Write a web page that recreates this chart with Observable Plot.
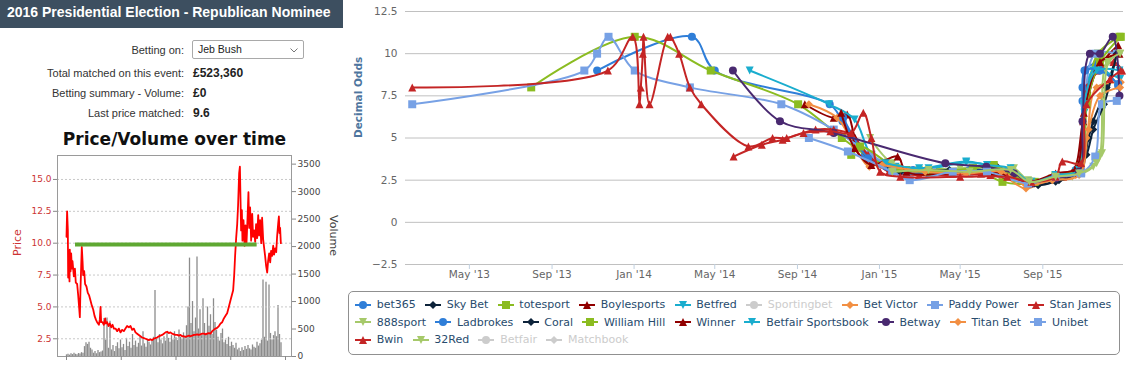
<!DOCTYPE html>
<html>
<head>
<meta charset="utf-8">
<script src="https://cdn.jsdelivr.net/npm/d3@7"></script>
<script src="https://cdn.jsdelivr.net/npm/@observablehq/plot@0.6"></script>
<style>
  body { margin: 0; background: #fff; }
  #page { position: relative; width: 1129px; height: 365px; overflow: hidden; background: #fff; font-family: "Liberation Sans", Arial, sans-serif; }
  .abs { position: absolute; }
  #titlebar { left: 0; top: 0; width: 343px; height: 28px; background: #3d4f60; color: #fff; font: bold 14px "Liberation Sans", Arial, sans-serif; line-height: 24px; padding-left: 7px; box-sizing: border-box; white-space: nowrap; }
  .lbl { left: 0; width: 184px; text-align: right; font-size: 11px; line-height: 14px; color: #333; white-space: nowrap; }
  .val { left: 193px; font-weight: bold; font-size: 12px; line-height: 14px; color: #222; white-space: nowrap; }
  #select { left: 192px; top: 40px; width: 112px; height: 19px; border: 1px solid #a9a9a9; border-radius: 2px; box-sizing: border-box; font-size: 10.5px; line-height: 17px; padding-left: 5px; color: #222; }
  #select svg { position: absolute; right: 5px; top: 7px; }
  #minititle { left: 0; top: 129px; width: 349px; text-align: center; font: bold 17px "DejaVu Sans", sans-serif; line-height: 20px; color: #111; white-space: nowrap; }
  #legendbox { left: 348px; top: 291px; width: 772px; height: 64px; border: 1px solid #909090; border-radius: 5px; box-sizing: border-box; }
  #legend { left: 355px; top: 296px; width: 780px; display: flex; flex-wrap: wrap; column-gap: 9.3px; row-gap: 0; font: 11px "DejaVu Sans", sans-serif; line-height: 17.5px; }
  #legend .item { display: flex; align-items: center; white-space: nowrap; }
  #legend .item svg { margin-right: 5.7px; display: block; }
</style>
</head>
<body>
<div id="page">
  <div id="titlebar" class="abs">2016 Presidential Election - Republican Nominee</div>
  <div class="abs lbl" style="top:43px">Betting on:</div>
  <div id="select" class="abs">Jeb Bush<svg width="8" height="5"><polyline points="0.5,0.5 4,4 7.5,0.5" fill="none" stroke="#777" stroke-width="1"/></svg></div>
  <div class="abs lbl" style="top:66px">Total matched on this event:</div>
  <div class="abs val" style="top:66px">£523,360</div>
  <div class="abs lbl" style="top:86px">Betting summary - Volume:</div>
  <div class="abs val" style="top:86px">£0</div>
  <div class="abs lbl" style="top:106px">Last price matched:</div>
  <div class="abs val" style="top:106px">9.6</div>
  <div id="minititle" class="abs">Price/Volume over time</div>
  <div id="minivol" class="abs" style="left:0;top:150px"></div>
  <div id="miniprice" class="abs" style="left:0;top:150px"></div>
  <div id="main" class="abs" style="left:345px;top:0"></div>
  <div id="legendbox" class="abs"></div>
  <div id="legend" class="abs"></div>
</div>
<script>
// ================= DATA: main chart =================
const xTickDates = ["2013-05-01","2013-09-01","2014-01-01","2014-05-01","2014-09-01","2015-01-01","2015-05-01","2015-09-01"];
const xTickLabels = ["May '13","Sep '13","Jan '14","May '14","Sep '14","Jan '15","May '15","Sep '15"];
const yTicks = [-2.5, 0, 2.5, 5, 7.5, 10, 12.5];
const xDomain = ["2013-01-26", "2015-12-30"];

const seriesNames = ["bet365","Sky Bet","totesport","Boylesports","Betfred","Sportingbet","Bet Victor","Paddy Power","Stan James","888sport","Ladbrokes","Coral","William Hill","Winner","Betfair Sportsbook","Betway","Titan Bet","Unibet","Bwin","32Red","Betfair","Matchbook"];
const seriesColors = ["#2f7ed8","#0d233a","#8bbc21","#910000","#1aadce","#492970","#f28f43","#77a1e5","#c42525","#a6c96a","#2f7ed8","#0d233a","#8bbc21","#910000","#1aadce","#492970","#f28f43","#77a1e5","#c42525","#a6c96a","#2f7ed8","#0d233a"];
const seriesSymbols = ["circle","diamond","square","triangle","triangle-down","circle","diamond","square","triangle","triangle-down","circle","diamond","square","triangle","triangle-down","circle","diamond","square","triangle","triangle-down","circle","diamond"];
const seriesHidden = [false,false,false,false,false,true,false,false,false,false,false,false,false,false,false,false,false,false,false,false,true,true];

const bet365 = [["2013-11-07",9],["2014-03-28",11],["2014-05-01",9],["2014-10-19",7],["2014-11-07",6],["2014-12-10",4],["2015-01-12",3.3],["2015-02-20",3.1],["2015-04-10",3],["2015-06-15",3.1],["2015-07-20",2.8],["2015-08-12",2.3],["2015-09-20",2.7],["2015-10-20",3.1],["2015-10-30",7.2],["2015-11-02",9],["2015-11-20",9.4],["2015-12-22",8.1]];
const skyBet = [["2015-01-15",3.1],["2015-03-15",3.0],["2015-05-20",3.2],["2015-06-25",3.3],["2015-08-01",2.6],["2015-08-25",2.2],["2015-09-25",2.5],["2015-10-25",2.9],["2015-11-08",5.0],["2015-11-15",6.0],["2015-12-05",8.0],["2015-12-20",10.0]];
const totesport = [["2013-08-01",8],["2014-01-02",11],["2014-04-25",9],["2014-09-02",7],["2014-11-06",5],["2015-01-02",3.5],["2015-02-10",3.1],["2015-04-01",3.0],["2015-05-20",3.2],["2015-07-03",2.4],["2015-08-12",2.3],["2015-09-20",2.8],["2015-10-25",3.2],["2015-11-06",7.5],["2015-11-22",10],["2015-12-24",11]];
const boylesports = [["2014-09-12",7],["2014-10-25",6.2],["2014-11-14",6.4],["2014-11-26",5],["2014-12-20",3.6],["2015-01-20",3.3],["2015-03-20",3.0],["2015-06-01",2.9],["2015-08-15",2.4],["2015-09-15",2.6],["2015-10-15",3.0],["2015-10-31",6],["2015-11-20",9],["2015-12-22",10.5]];
const betfred = [["2014-06-22",9],["2014-10-18",7],["2014-11-25",6.1],["2014-12-20",4],["2015-01-25",3.3],["2015-03-15",3.2],["2015-05-10",3.55],["2015-06-20",3.3],["2015-08-10",2.3],["2015-09-20",2.8],["2015-10-20",3],["2015-11-02",6.5],["2015-11-15",9],["2015-12-25",8.5]];
const sportingbet = [];
const betVictor = [["2014-09-18",7],["2014-10-30",6.2],["2014-11-25",4.5],["2014-12-17",3.3],["2015-01-10",3.6],["2015-02-20",3.0],["2015-05-01",3.0],["2015-07-01",2.8],["2015-08-07",2.0],["2015-09-10",2.6],["2015-10-20",2.8],["2015-11-05",5],["2015-11-20",8],["2015-12-26",8.3]];
const paddyPower = [["2013-02-05",7],["2013-10-19",9],["2013-11-07",10],["2013-11-24",11],["2014-01-02",9],["2014-03-25",8],["2014-08-08",7],["2014-10-25",5.5],["2014-12-20",4],["2015-01-25",3.2],["2015-03-20",3.0],["2015-05-15",3.0],["2015-07-01",2.9],["2015-08-15",2.4],["2015-09-25",2.7],["2015-10-28",3],["2015-11-02",7.1],["2015-11-18",10],["2015-12-20",10]];
const stanJames = [["2013-02-05",8],["2013-11-23",9],["2013-12-30",11],["2014-01-09",7],["2014-01-11",8],["2014-01-14",10],["2014-01-15",11],["2014-01-24",7],["2014-02-20",11],["2014-02-24",11],["2014-03-09",10],["2014-03-25",8],["2014-04-11",7],["2014-06-20",4.5],["2014-07-26",5],["2014-08-16",5],["2014-09-28",5.5],["2014-10-25",5.5],["2014-11-20",5.2],["2014-12-15",4],["2015-01-15",3],["2015-03-01",2.8],["2015-06-15",2.8],["2015-08-15",2.4],["2015-10-01",2.7],["2015-10-28",3],["2015-11-05",8],["2015-12-15",9.5],["2015-12-28",9]];
const sport888 = [["2014-12-18",5],["2015-01-20",3.5],["2015-03-01",3.1],["2015-05-01",3.2],["2015-06-15",3.1],["2015-07-20",3.2],["2015-08-10",2.5],["2015-09-15",2.6],["2015-10-15",2.7],["2015-11-15",3.3],["2015-11-25",4.0],["2015-12-05",9.5],["2015-12-25",10]];
const ladbrokes = [["2014-11-08",6.2],["2014-12-15",3.8],["2015-01-20",3.0],["2015-03-15",2.9],["2015-05-15",3.1],["2015-07-10",3.0],["2015-08-15",2.4],["2015-09-20",2.7],["2015-10-25",3.0],["2015-10-30",8.0],["2015-11-03",9.0],["2015-11-25",9.0],["2015-12-22",8.2]];
const coral = [["2015-02-01",3.0],["2015-04-15",3.1],["2015-06-20",3.0],["2015-08-20",2.3],["2015-09-20",2.4],["2015-10-20",2.9],["2015-11-05",4.0],["2015-11-15",5.5],["2015-12-01",7.0],["2015-12-20",10.0]];
const williamHill = [["2014-11-20",4.0],["2014-12-03",4.5],["2015-01-28",3.2],["2015-03-15",3.0],["2015-05-20",3.2],["2015-06-20",3.4],["2015-07-25",2.6],["2015-08-20",2.4],["2015-09-20",2.7],["2015-10-25",3.3],["2015-11-05",7.0],["2015-11-25",9.5],["2015-12-26",11.0]];
const winner = [["2014-11-05",6.5],["2014-11-25",4.4],["2014-12-20",3.4],["2015-01-28",3.9],["2015-02-10",3.0],["2015-04-20",2.9],["2015-06-20",3.0],["2015-08-10",2.4],["2015-09-20",2.9],["2015-10-20",3.2],["2015-11-01",6.5],["2015-11-25",9.5],["2015-12-24",10.0]];
const betfairSportsbook = [["2015-01-10",3.5],["2015-03-01",3.2],["2015-05-10",3.6],["2015-06-10",3.4],["2015-07-15",3.2],["2015-08-15",2.4],["2015-09-20",2.8],["2015-10-25",3.1],["2015-11-01",7.0],["2015-11-20",9.0],["2015-12-24",9.0]];
const betway = [["2014-05-28",9],["2014-08-06",6],["2014-10-25",5.3],["2015-04-09",3.5],["2015-06-09",3.3],["2015-07-20",2.9],["2015-08-15",2.3],["2015-09-20",2.6],["2015-10-25",3.0],["2015-10-30",6.0],["2015-11-10",10.0],["2015-11-25",10.0],["2015-12-14",11.0],["2015-12-24",7.5]];
const titanBet = [["2015-01-05",3.4],["2015-03-10",3.0],["2015-05-10",2.9],["2015-07-01",3.0],["2015-08-07",2.2],["2015-09-15",2.5],["2015-10-25",2.8],["2015-11-08",5.5],["2015-11-25",7.5],["2015-12-25",8.0]];
const unibet = [["2014-09-18",5],["2014-11-15",4.2],["2015-01-20",3.0],["2015-02-15",2.5],["2015-04-20",3.0],["2015-06-10",3.0],["2015-08-10",2.3],["2015-09-20",2.7],["2015-10-28",2.9],["2015-11-18",3.9],["2015-11-28",7.0],["2015-12-20",7.2]];
const bwin = [["2014-05-29",3.9],["2014-07-10",4.6],["2014-08-10",4.9],["2014-09-10",5.3],["2014-10-20",5.4],["2014-11-20",5.3],["2014-12-08",6.5],["2014-12-20",5.0],["2015-01-02",3.0],["2015-02-01",2.7],["2015-05-01",2.7],["2015-07-10",2.7],["2015-08-15",2.4],["2015-09-20",2.7],["2015-09-30",3.6],["2015-10-28",3.5],["2015-11-05",7.0],["2015-12-10",8.5],["2015-12-26",9.0]];
const red32 = [["2015-01-20",3.0],["2015-03-15",3.1],["2015-05-15",3.0],["2015-07-15",3.1],["2015-08-12",2.4],["2015-09-20",2.7],["2015-10-25",2.9],["2015-11-20",3.5],["2015-11-28",4.1],["2015-12-08",9.5],["2015-12-25",10.0]];
const betfair = [];
const matchbook = [];
const seriesData = [bet365, skyBet, totesport, boylesports, betfred, sportingbet, betVictor, paddyPower, stanJames, sport888, ladbrokes, coral, williamHill, winner, betfairSportsbook, betway, titanBet, unibet, bwin, red32, betfair, matchbook];

// ================= DATA: mini price/volume chart =================
const priceTicks = [2.5, 5, 7.5, 10, 12.5, 15];
const volumeTicks = [0, 500, 1000, 1500, 2000, 2500, 3000, 3500];
const miniXTicks = [0, 365, 730, 1095, 1460];
const miniXDomain = [-60, 1500];
const priceDomain = [1.11, 16.88];
const volumeDomain = [0, 3657];
const priceSeries = [[0,10.5],[4,12.5],[9,11.0],[11,7.3],[16,8.8],[20,7.0],[22,9.5],[27,7.8],[31,9.2],[36,8.0],[40,8.6],[49,7.4],[56,8.0],[62,6.9],[71,6.8],[78,5.9],[84,5.0],[89,4.2],[93,6.3],[98,8.2],[102,9.7],[107,8.6],[111,7.5],[118,7.8],[124,6.8],[133,6.6],[142,6.1],[151,5.9],[160,5.5],[169,5.1],[178,4.8],[187,4.3],[196,4.0],[204,3.8],[216,3.6],[222,4.0],[227,5.0],[231,3.8],[240,3.8],[249,3.6],[258,4.1],[262,3.7],[271,3.8],[280,3.5],[289,3.7],[298,3.4],[307,3.6],[316,3.3],[327,3.3],[338,3.1],[349,3.3],[360,3.0],[371,3.2],[382,3.1],[393,3.3],[404,3.5],[416,3.4],[427,3.5],[438,3.2],[449,3.3],[460,3.0],[471,2.9],[482,2.8],[493,2.7],[504,2.6],[516,2.55],[527,2.5],[538,2.45],[549,2.4],[560,2.45],[571,2.4],[582,2.5],[593,2.55],[604,2.6],[616,2.7],[627,2.75],[638,2.8],[649,2.9],[660,3.0],[671,3.05],[682,2.95],[693,3.0],[704,2.9],[716,2.85],[727,2.8],[738,2.8],[749,2.75],[760,2.8],[771,2.7],[782,2.7],[793,2.65],[804,2.7],[816,2.75],[827,2.7],[838,2.75],[849,2.8],[860,2.8],[871,2.85],[882,2.8],[893,2.85],[904,2.9],[916,2.9],[927,2.85],[938,2.9],[949,2.95],[960,2.9],[971,3.1],[982,3.2],[993,3.3],[1004,3.35],[1016,3.5],[1027,3.7],[1038,3.8],[1049,4.1],[1060,4.3],[1071,4.5],[1082,5.0],[1093,5.5],[1104,6.0],[1111,6.3],[1118,7.5],[1124,9.0],[1131,10.4],[1138,11.5],[1144,13.0],[1151,15.5],[1156,16.0],[1160,13.5],[1164,11.0],[1169,12.6],[1173,10.2],[1180,11.8],[1187,9.8],[1193,11.4],[1200,10.0],[1207,12.0],[1213,14.0],[1218,11.2],[1224,12.8],[1231,10.2],[1238,12.3],[1244,10.5],[1251,11.0],[1258,10.1],[1264,11.5],[1271,10.4],[1278,12.2],[1284,10.6],[1291,11.8],[1298,10.0],[1304,12.0],[1311,10.3],[1318,9.6],[1324,9.0],[1331,8.2],[1338,7.7],[1344,8.6],[1351,9.2],[1358,8.5],[1364,9.4],[1371,9.0],[1378,9.8],[1384,9.1],[1391,9.6],[1398,9.3],[1404,10.5],[1411,11.5],[1416,12.1],[1420,10.8],[1424,11.2],[1429,10.0]];
const volumeStart = 0, volumeStep = 10;
const volumeValues = [30,40,25,50,35,60,40,30,55,45,70,60,
  180,250,220,260,150,120,
  60,90,50,110,70,80,100,
  690,300,700,150,640,
  120,200,90,180,250,140,300,160,220,110,330,180,260,150,400,200,280,170,240,350,190,450,230,170,300,260,
  210,280,350,1200,320,250,400,300,230,360,280,420,330,260,380,300,450,340,290,480,350,310,430,370,560,
  900,1790,600,1000,450,700,1810,500,850,380,1050,600,420,900,550,760,400,1050,620,480,
  350,280,420,500,250,300,220,350,180,260,200,150,240,
  120,150,90,160,110,180,130,200,140,120,210,170,150,260,190,230,300,
  1390,350,1350,280,1300,420,300,380,450,360,930,400,250];
const avgPrice = 9.9;
const avgSpan = [60, 1271];

// ================= symbols (Highcharts-like markers) =================
const rad = size => Math.sqrt(size / Math.PI);
const symbols = {
  "circle": {draw(c, s) { const r = rad(s); c.moveTo(r, 0); c.arc(0, 0, r, 0, 2 * Math.PI); c.closePath(); }},
  "diamond": {draw(c, s) { const r = rad(s); c.moveTo(0, -r); c.lineTo(r, 0); c.lineTo(0, r); c.lineTo(-r, 0); c.closePath(); }},
  "square": {draw(c, s) { const r = rad(s); c.moveTo(-r, -r); c.lineTo(r, -r); c.lineTo(r, r); c.lineTo(-r, r); c.closePath(); }},
  "triangle": {draw(c, s) { const r = rad(s); c.moveTo(0, -r); c.lineTo(r, r); c.lineTo(-r, r); c.closePath(); }},
  "triangle-down": {draw(c, s) { const r = rad(s); c.moveTo(0, r); c.lineTo(r, -r); c.lineTo(-r, -r); c.closePath(); }}
};

// ================= main chart =================
const parse = s => new Date(s + "T00:00:00Z");
const minusFmt = d => d < 0 ? "\u2212" + Math.abs(d) : String(d);
const mainMarks = [
  Plot.gridY(yTicks, {stroke: "#c0c0c0", strokeOpacity: 1}),
  Plot.axisY(yTicks, {tickSize: 0, tickPadding: 8, fill: "#666", tickFormat: minusFmt, label: null}),
  Plot.axisX(xTickDates.map(parse), {tickSize: 5, tickPadding: 1, stroke: "#c0d0e0", strokeOpacity: 1, fill: "#666", label: null,
    tickFormat: d => xTickLabels[xTickDates.indexOf(d.toISOString().slice(0, 10))]}),
  Plot.text(["Decimal Odds"], {text: d => d, frameAnchor: "left", dx: -47, rotate: -90, fill: "#4d759e", fontWeight: "bold", fontSize: 10.5})
];
seriesData.forEach((data, i) => {
  if (seriesHidden[i] || !data.length) return;
  const rows = data.map(([d, v]) => ({date: parse(d), value: v}));
  mainMarks.push(Plot.line(rows, {x: "date", y: "value", stroke: seriesColors[i], strokeWidth: 2, curve: "catmull-rom"}));
  mainMarks.push(Plot.dot(rows, {x: "date", y: "value", fill: seriesColors[i], r: 4, symbol: symbols[seriesSymbols[i]]}));
});
const mainPlot = Plot.plot({
  width: 784, height: 290,
  marginLeft: 60, marginRight: 6, marginTop: 11, marginBottom: 26,
  x: {type: "utc", domain: xDomain.map(parse)},
  y: {domain: [-2.5, 12.5]},
  style: {background: "transparent", fontFamily: "DejaVu Sans, sans-serif", fontSize: "10.5px", overflow: "visible"},
  marks: mainMarks
});
document.getElementById("main").appendChild(mainPlot);

// ================= mini chart: volume layer =================
const miniCommon = {width: 345, height: 214, marginLeft: 57, marginRight: 54, marginTop: 5, marginBottom: 8,
  style: {background: "transparent", fontFamily: "DejaVu Sans, sans-serif", fontSize: "9px", overflow: "visible"}};
const volPlot = Plot.plot({
  ...miniCommon,
  x: {domain: miniXDomain, axis: null},
  y: {domain: volumeDomain},
  marks: [
    Plot.ruleX(volumeValues, {x: (d, i) => volumeStart + i * volumeStep, y1: 0, y2: d => d, stroke: "#8c8c8c", strokeWidth: 1.3}),
    Plot.axisY(volumeTicks, {anchor: "right", tickSize: 4, tickPadding: 2, stroke: "#888", fill: "#444", tickFormat: d => String(d), label: null}),
    Plot.text(["Volume"], {text: d => d, frameAnchor: "right", dx: 42, rotate: 90, fill: "#444", fontSize: 11})
  ]
});
document.getElementById("minivol").appendChild(volPlot);

// ================= mini chart: price layer =================
const pricePlot = Plot.plot({
  ...miniCommon,
  x: {domain: miniXDomain},
  y: {domain: priceDomain},
  marks: [
    Plot.gridY(priceTicks, {stroke: "#c8c8c8", strokeOpacity: 1, strokeDasharray: "2,2"}),
    Plot.frame({stroke: "#9a9a9a"}),
    Plot.axisY(priceTicks, {tickSize: 4, tickPadding: 2, stroke: "#888", fill: "#c33", tickFormat: d => d.toFixed(1), label: null}),
    Plot.axisX(miniXTicks, {tickSize: 4, stroke: "#888", fill: "none", label: null}),
    Plot.line(priceSeries, {x: d => d[0], y: d => d[1], stroke: "#f00", strokeWidth: 1.8}),
    Plot.ruleY([avgPrice], {x1: avgSpan[0], x2: avgSpan[1], stroke: "#5fa832", strokeWidth: 4}),
    Plot.text(["Price"], {text: d => d, frameAnchor: "left", dx: -40, rotate: -90, fill: "#c33", fontSize: 11})
  ]
});
document.getElementById("miniprice").appendChild(pricePlot);

// ================= legend =================
const legend = d3.select("#legend");
seriesNames.forEach((name, i) => {
  const col = seriesHidden[i] ? "#cccccc" : seriesColors[i];
  const item = legend.append("div").attr("class", "item");
  const svg = item.append("svg").attr("width", 16).attr("height", 12);
  svg.append("line").attr("x1", 0).attr("x2", 16).attr("y1", 6).attr("y2", 6).attr("stroke", col).attr("stroke-width", 2);
  svg.append("path").attr("d", d3.symbol(symbols[seriesSymbols[i]], 16 * Math.PI)()).attr("transform", "translate(8,6)").attr("fill", col);
  item.append("span").text(name).style("color", seriesHidden[i] ? "#cccccc" : "#274b6d");
});
</script>
</body>
</html>
